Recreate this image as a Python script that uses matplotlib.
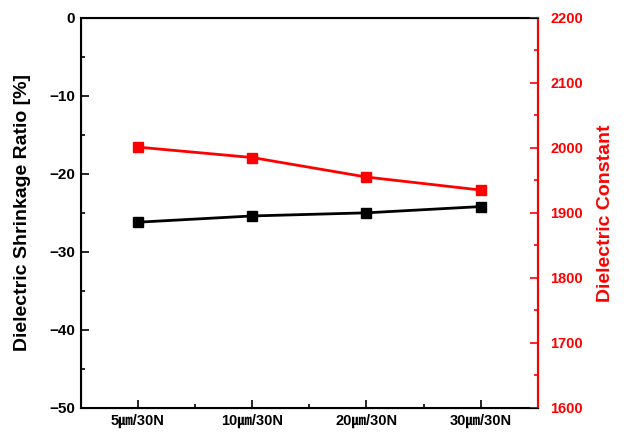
import matplotlib.pyplot as plt
import numpy as np

plt.rcParams['font.family'] = ['Liberation Sans', 'Noto Sans CJK KR', 'DejaVu Sans']
plt.rcParams['font.weight'] = 'bold'

labels = ['5㎛/30N', '10㎛/30N', '20㎛/30N', '30㎛/30N']
shrinkage = [-26.2, -25.4, -25.0, -24.2]
dielectric = [2001, 1985, 1955, 1935]

x = np.arange(len(labels))

fig, ax = plt.subplots(figsize=(6.32, 4.42), dpi=100)
fig.subplots_adjust(left=0.128, right=0.851, top=0.96, bottom=0.077)

ax.plot(x, shrinkage, color='black', marker='s', markersize=7, linewidth=2)
ax.set_ylim(-50, 0)
ax.set_xlim(-0.5, 3.5)
ax.set_xticks(x)
ax.set_xticklabels(labels, fontsize=10.5, fontweight='bold')
ax.set_xticks(x[:-1] + 0.5, minor=True)
ax.set_yticks(np.arange(-50, 1, 10))
ax.set_yticklabels(['−50', '−40', '−30', '−20', '−10', '0'])
ax.set_yticks(np.arange(-45, 0, 10), minor=True)
ax.tick_params(axis='both', which='both', direction='in', width=1.2)
ax.tick_params(axis='y', labelsize=11, pad=4)
ax.tick_params(axis='x', labelsize=10.5, pad=4)
ax.tick_params(which='major', length=6)
ax.tick_params(which='minor', length=3)
ax.set_ylabel('Dielectric Shrinkage Ratio [%]', fontsize=14, fontweight='bold', labelpad=13)
for s in ax.spines.values():
    s.set_linewidth(1.5)

ax2 = ax.twinx()
ax2.plot(x, dielectric, color='red', marker='s', markersize=7, linewidth=2)
ax2.set_ylim(1600, 2200)
ax2.set_yticks(np.arange(1600, 2201, 100))
ax2.set_yticks(np.arange(1650, 2200, 100), minor=True)
ax2.tick_params(axis='y', which='both', direction='in', colors='red', width=1.2)
ax2.tick_params(axis='y', labelsize=10.5, pad=9)
ax2.tick_params(which='major', length=6)
ax2.tick_params(which='minor', length=3)
ax2.spines['right'].set_color('red')
ax2.spines['right'].set_linewidth(1.5)
ax2.set_ylabel('Dielectric Constant', color='red', fontsize=14, fontweight='bold', labelpad=10)

plt.savefig('out.png', dpi=100)
